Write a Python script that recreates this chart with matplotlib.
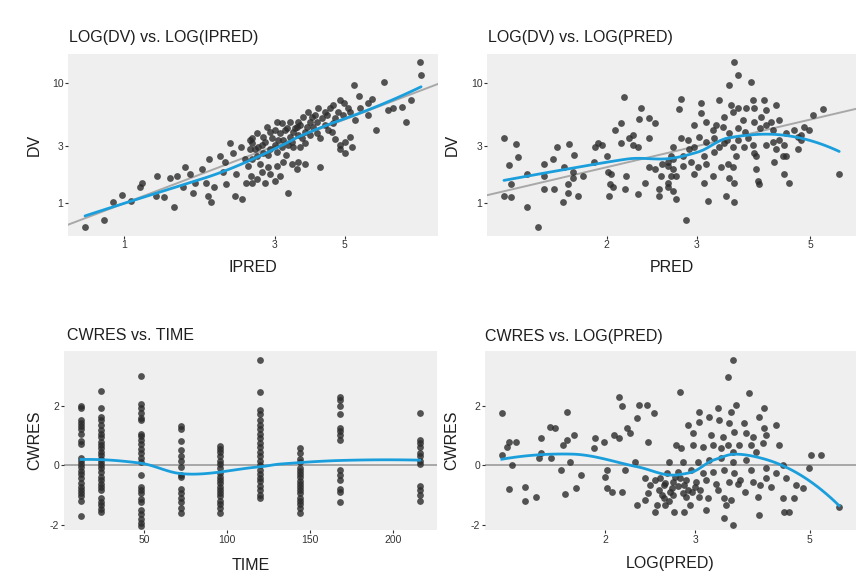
import numpy as np
import matplotlib
matplotlib.use("Agg")
import matplotlib.pyplot as plt
from matplotlib.ticker import NullLocator

plt.rcParams['font.family'] = ['Liberation Sans', 'DejaVu Sans']
plt.rcParams['axes.unicode_minus'] = False

# ---- observed vs individual prediction ----
ipred_a = [0.75, 0.86, 0.92, 0.98, 1.05, 1.12, 1.14, 1.26, 1.27, 1.34, 1.44, 1.40, 1.53, 1.47,
           1.56, 1.62, 1.65, 1.68, 1.77, 1.81, 1.84, 1.88, 1.86, 1.93, 2.01, 2.05, 2.08, 2.10,
           2.17, 2.21, 2.24, 2.26, 2.34, 2.37, 2.41, 2.50, 2.46, 2.52, 2.50, 2.44,
           8.68, 8.75, 5.35, 6.67, 5.55, 5.93, 6.11, 4.83, 4.59, 4.97, 5.12, 5.59, 6.87, 7.12,
           7.61, 8.13, 7.84, 6.29, 5.93, 4.76, 4.49, 4.39, 4.11, 4.23, 4.08, 3.94, 3.82, 3.68,
           3.55, 3.53, 3.35, 3.28, 3.16, 3.05, 3.00, 2.89, 2.83, 2.75, 2.63, 2.55, 2.54, 2.65,
           2.79, 2.94, 3.11, 3.18, 3.35, 3.42, 3.55, 3.74, 3.79, 3.96, 4.08, 4.56, 4.66, 4.83,
           5.01, 5.20, 5.27, 4.83, 5.01, 4.59, 4.43, 4.17, 3.74, 3.60, 3.42, 3.30, 3.16, 3.05,
           2.89, 2.75, 2.63, 2.54, 2.69, 2.85, 3.05, 3.18, 3.40, 3.53, 3.74, 4.17, 3.55, 3.11,
           3.00, 2.79, 2.63, 2.54, 3.30, 2.89, 2.73,
           3.23, 3.47, 3.60, 3.88, 4.02, 4.33, 2.73, 2.85, 3.00, 3.25, 3.40, 3.66, 3.88, 3.07,
           2.59, 4.33, 4.66, 4.94, 5.20, 5.39]
dv_a = [0.64, 0.72, 1.02, 1.17, 1.04, 1.36, 1.49, 1.14, 1.68, 1.12, 0.93, 1.64, 1.36, 1.68,
        1.99, 1.74, 1.23, 1.49, 1.92, 1.49, 1.14, 1.02, 2.32, 1.38, 2.46, 1.81, 2.23, 1.44,
        3.21, 2.65, 1.14, 1.74, 2.97, 1.08, 2.32, 3.40, 2.03, 1.68, 2.81, 1.49,
        15.1, 11.8, 9.73, 10.3, 7.88, 6.90, 7.45, 7.31, 6.64, 6.90, 6.27, 6.27, 6.03, 6.27,
        6.39, 7.31, 4.80, 4.12, 5.48, 5.81, 6.27, 5.48, 6.27, 5.18, 4.80, 5.28, 5.81, 5.28,
        4.80, 4.36, 4.80, 4.28, 4.71, 4.80, 4.12, 3.96, 4.36, 3.60, 3.89, 3.53, 3.21, 2.97,
        3.27, 3.53, 3.89, 3.40, 3.60, 3.96, 3.74, 3.96, 4.36, 4.36, 3.89, 3.96, 3.47, 3.09,
        3.27, 3.60, 2.97, 2.81, 2.65, 4.71, 4.12, 3.53, 3.21, 2.92, 2.92, 3.09, 2.97, 2.70,
        2.81, 2.65, 2.46, 2.32, 2.11, 1.99, 2.03, 2.23, 2.11, 1.92, 2.11, 1.99, 2.23, 1.68,
        1.52, 1.49, 1.58, 1.49, 1.23, 1.74, 1.81,
        4.12, 4.28, 4.53, 4.80, 5.48, 5.81, 3.09, 2.55, 3.09, 2.55, 3.27, 3.53, 3.74, 3.40,
        2.81, 4.53, 5.18, 5.48, 5.81, 4.98]

# ---- observed vs population prediction ----
pred_b = [1.26, 1.33, 1.34, 1.29, 1.30, 1.26, 1.30, 1.40, 1.40, 1.47, 1.51, 1.51, 1.51, 1.57,
          1.58, 1.60, 1.65, 1.64, 1.68, 1.68, 1.69, 1.72, 1.72, 1.73, 1.76, 1.80, 1.89, 1.90,
          1.92, 1.96, 2.00, 2.01, 2.03, 2.04, 2.02, 2.06, 2.08, 2.13, 2.13, 2.16, 2.18, 2.17,
          2.21, 2.25, 2.25, 2.30, 2.30, 2.31, 2.33, 2.38, 2.42, 2.42, 2.42, 2.49, 2.49, 2.53,
          2.53, 2.55, 2.57, 2.63, 2.64, 2.67, 2.69, 2.70,
          3.54, 3.61, 3.46, 3.83, 2.79, 2.77, 3.05, 3.05, 3.31, 3.50, 3.53, 3.61, 3.69, 3.74,
          3.86, 3.88, 4.06, 4.09, 4.28, 4.34, 5.06, 5.29, 2.96, 3.12, 3.22, 3.39, 3.37, 3.46,
          3.61, 3.88, 4.00, 4.19, 4.22, 4.48, 4.64, 4.79, 4.97, 2.79, 2.88, 2.70, 2.67, 2.82,
          2.96, 3.03, 3.12, 3.24, 3.31, 3.39, 3.53, 3.61, 3.71, 3.86, 3.88, 4.09, 4.22, 4.34,
          4.44, 4.48, 4.73, 4.79, 4.28, 2.63, 2.70, 2.82, 2.92, 3.01, 3.10, 3.12, 3.24, 3.34,
          3.45, 3.53, 3.58, 3.91, 4.24, 4.42, 2.63, 2.73, 2.96, 3.10, 3.22, 3.46, 3.54, 3.91,
          3.95, 3.97, 4.44, 4.54, 5.69, 2.73, 3.15, 3.42, 3.54, 2.86, 4.73, 4.86,
          3.27, 3.72, 3.98, 3.43, 3.78, 2.90, 4.09]
dv_b = [3.53, 3.15, 2.41, 2.07, 1.44, 1.14, 1.12, 1.74, 0.94, 0.63, 2.11, 1.68, 1.31, 2.32,
        1.31, 2.97, 1.99, 1.02, 1.44, 1.23, 3.15, 1.64, 1.84, 2.55, 1.14, 1.68, 2.23, 2.97,
        3.21, 3.09, 2.46, 1.84, 1.44, 1.74, 1.14, 1.38, 4.12, 4.71, 3.21, 7.74, 1.68, 1.31,
        3.53, 3.09, 3.74, 2.97, 1.19, 5.08, 6.27, 1.49, 5.18, 3.53, 1.99, 4.71, 1.92, 1.31,
        1.14, 1.68, 2.11, 1.49, 2.03, 1.68, 2.32, 1.26,
        15.1, 11.8, 9.73, 10.3, 7.45, 6.15, 6.90, 5.70, 7.31, 6.64, 5.81, 6.27, 4.98, 6.27,
        7.31, 6.27, 7.31, 6.03, 6.64, 4.98, 5.48, 6.15, 4.53, 4.80, 4.12, 5.28, 4.36, 3.89,
        4.28, 4.80, 5.28, 4.80, 4.12, 3.89, 4.12, 3.74, 4.12, 3.53, 3.40, 2.97, 2.46, 2.46,
        2.97, 3.60, 3.27, 3.53, 2.97, 3.21, 2.97, 3.40, 2.92, 3.09, 2.65, 3.09, 3.27, 3.40,
        3.09, 2.46, 2.81, 3.40, 2.81, 2.19, 1.92, 2.03, 2.23, 1.99, 2.46, 2.11, 2.70, 1.99,
        2.11, 1.99, 2.46, 2.46, 2.23, 2.46, 1.38, 1.68, 1.74, 1.49, 1.68, 1.64, 1.49, 1.92,
        1.52, 1.44, 1.74, 1.49, 1.77, 1.08, 1.04, 1.14, 1.02, 0.72, 3.60, 4.36,
        4.53, 3.96, 4.28, 3.40, 3.53, 2.81, 4.53]

# ---- conditional weighted residuals vs time ----
time_levels = [12, 24, 48, 72, 96, 120, 144, 168, 216]
cwres_by_time = [
    [2.0, 1.9, 1.5, 1.4, 1.3, 1.2, 1.05, 0.8, 0.7, 0.25, 0.15, 0.05, -0.05, -0.2, -0.3,
     -0.45, -0.6, -0.75, -0.85, -0.95, -1.05, -1.2, -1.7],
    [2.49, 1.93, 1.62, 1.51, 1.34, 1.18, 1.06, 0.95, 0.78, 0.67, 0.56, 0.45, 0.34, 0.22,
     0.11, 0.0, -0.11, -0.22, -0.39, -0.5, -0.62, -0.73, -0.84, -1.12, -1.23, -1.34, -1.46,
     -1.57],
    [2.98, 2.05, 1.9, 1.75, 1.58, 1.5, 1.05, 0.96, 0.85, 0.7, 0.55, 0.4, 0.25, 0.1, -0.33,
     -0.73, -0.85, -0.95, -1.15, -1.25, -1.5, -1.65, -1.8, -1.95, -2.05],
    [1.3, 1.2, 0.8, 0.5, 0.3, 0.15, -0.05, -0.35, -0.4, -0.8, -0.95, -1.1, -1.25, -1.45, -1.6],
    [0.65, 0.55, 0.45, 0.3, 0.15, 0.05, -0.1, -0.25, -0.4, -0.5, -0.6, -0.75, -0.85, -0.95,
     -1.05, -1.2, -1.3, -1.45, -1.6],
    [3.53, 2.45, 1.85, 1.7, 1.5, 1.35, 1.2, 1.05, 0.9, 0.75, 0.6, 0.45, 0.3, 0.15, 0.0,
     -0.15, -0.3, -0.45, -0.55, -0.7, -0.85, -1.0, -1.1],
    [0.58, 0.4, 0.2, 0.1, -0.1, -0.2, -0.3, -0.4, -0.55, -0.65, -0.75, -0.85, -0.95, -1.1,
     -1.2, -1.3, -1.45, -1.6],
    [2.3, 2.2, 2.0, 1.7, 1.25, 1.15, 1.0, 0.85, -0.15, -0.35, -0.5, -0.8, -0.9, -1.25],
    [1.75, 0.85, 0.75, 0.6, 0.4, 0.3, 0.15, 0.05, -0.7, -0.85, -1.0, -1.2],
]

# ---- conditional weighted residuals vs population prediction ----
pred_d = [1.26, 1.26, 1.30, 1.29, 1.34, 1.32, 1.30, 1.40, 1.40, 1.47, 1.50, 1.50, 1.49, 1.56,
          1.60, 1.57, 1.69, 1.64, 1.66, 1.69, 1.74, 1.71, 1.67, 1.76, 1.80, 1.91, 1.90, 1.99,
          2.02, 2.00, 2.02, 2.06, 2.08, 2.13, 2.16, 2.13, 2.16, 2.19, 2.21, 2.24, 2.31, 2.33,
          2.41, 2.43, 2.49, 2.29, 2.31, 2.39, 2.43, 2.50, 2.55, 2.61, 2.53, 2.62, 2.61, 2.64,
          2.67, 2.50,
          3.55, 3.47, 2.80, 3.82, 3.05, 3.32, 3.60, 3.52, 4.08, 3.99, 2.90, 3.05, 3.19, 3.34,
          3.49, 3.73, 4.08, 4.31, 2.97, 3.22, 3.40, 3.57, 3.76, 3.88, 4.12, 4.06, 4.36, 5.04,
          5.27, 2.75, 2.81, 2.97, 3.10, 3.25, 3.37, 3.47, 3.55, 3.65, 3.85, 3.94, 2.84, 3.04,
          3.19, 3.37, 3.55, 3.76, 2.78, 2.94, 3.10, 3.25, 3.41, 3.57, 3.85, 4.12, 4.31, 4.44,
          4.99, 2.71, 2.85, 3.01, 3.15, 3.29, 3.49, 3.63, 3.88, 4.12, 4.21, 4.50, 4.71, 4.86,
          2.71, 2.88, 3.05, 3.17, 3.41, 3.52, 3.97, 4.44, 4.67, 2.73, 2.85, 3.15, 3.41, 3.55,
          3.99, 4.46, 4.56, 5.71,
          2.39, 2.45, 2.56, 2.70, 2.80, 2.90, 3.00, 2.58, 2.93, 3.06, 3.66, 3.74, 3.32, 4.01,
          3.44, 2.62, 2.68, 2.74, 2.78, 2.84, 2.88, 2.95, 2.66]
cwres_d = [1.74, 0.34, 0.78, 0.62, 0.78, 0.0, -0.81, -0.73, -1.21, -1.07, 0.90, 0.39, 0.23,
           1.29, 1.23, 0.23, 1.79, -0.17, 0.67, 0.84, 1.01, 0.11, -0.98, -0.76, -0.34, 0.90,
           0.56, 0.78, -0.17, -0.39, -0.78, -0.90, 1.01, 2.30, 1.98, 0.90, -0.90, -0.17, 1.23,
           1.07, 1.57, 2.02, 2.02, 0.78, 1.74, 0.11, -1.34, -1.18, -0.95, -0.50, -0.84, -1.12,
           -1.34, -1.34, -0.67, -0.28, 0.11, -1.57,
           3.53, 2.95, 2.46, 2.41, 1.79, 1.91, 2.02, 1.79, 1.91, 1.62, 1.34, 1.46, 1.62, 1.51,
           1.40, 1.40, 1.23, 1.34, 1.07, 1.01, 0.95, 1.12, 1.07, 0.95, 1.01, 0.73, 0.67, 0.34,
           0.34, 0.67, 0.56, 0.67, 0.62, 0.67, 0.56, 0.67, 0.45, 0.67, 0.67, 0.45, 0.11, 0.11,
           0.17, 0.23, 0.11, 0.17, -0.23, -0.17, -0.28, -0.23, -0.17, -0.28, -0.17, -0.11,
           -0.28, 0.0, -0.11, -0.56, -0.67, -0.56, -0.50, -0.62, -0.56, -0.62, -0.56, -0.45,
           -0.73, -0.45, -0.67, -0.78, -1.01, -1.07, -1.07, -1.12, -1.12, -1.18, -1.07, -1.12,
           -1.12, -1.57, -1.57, -1.51, -1.79, -2.02, -1.68, -1.57, -1.57, -1.42,
           -0.45, -0.67, -0.45, -0.78, -0.45, -0.84, -0.73, -1.01, -1.34, -0.84, -0.50, -0.90,
           -0.84, -0.67, -1.34, -0.60, -0.90, -0.40, -0.70, -0.95, -0.50, -0.90, -1.20]

titles = ["LOG(DV) vs. LOG(IPRED)", "LOG(DV) vs. LOG(PRED)",
          "CWRES vs. TIME", "CWRES vs. LOG(PRED)"]

POINT = '#2b2b2b'
SMOOTH = '#1b9fdc'
REF = '#a8a8a8'
PANEL_BG = '#efefef'
TICK_COL = '#333333'
TEXT_COL = '#1f1f1f'


def _local_fit(x, y, x0, q):
    """Weighted local quadratic at x0; returns value and slope."""
    d = np.abs(x - x0)
    h = np.sort(d)[q - 1]
    h = max(h, 1e-12)
    w = np.clip(1 - (d / h) ** 3, 0, None) ** 3
    X = np.column_stack([np.ones_like(x), x - x0, (x - x0) ** 2])
    sw = np.sqrt(w)
    beta = np.linalg.lstsq(X * sw[:, None], y * sw, rcond=None)[0]
    return beta[0], beta[1]


def loess(x, y, span=0.75, n_out=80):
    """loess smoother: local quadratic fits at kd-tree vertices joined by
    cubic Hermite interpolation (R's default surface='interpolate')."""
    x = np.asarray(x, float)
    y = np.asarray(y, float)
    n = len(x)
    q = int(np.floor(n * span))
    fc = int(np.floor(n * span * 0.2))
    xs = np.sort(x)
    lo, hi = xs[0], xs[-1]
    mu = 0.005 * (hi - lo)
    verts = {lo - mu, hi + mu}

    def split(l, u, a, b):
        if u - l + 1 <= fc or xs[l] == xs[u]:
            return
        m = (l + u) // 2
        v = 0.5 * (xs[m] + xs[m + 1])
        if v <= a or v >= b:
            return
        verts.add(v)
        split(l, m, a, v)
        split(m + 1, u, v, b)

    split(0, n - 1, lo - mu, hi + mu)
    vx = np.array(sorted(verts))
    fits = np.array([_local_fit(x, y, v, q) for v in vx])
    vy, vs = fits[:, 0], fits[:, 1]
    grid = np.linspace(lo, hi, n_out)
    out = np.empty_like(grid)
    for i, g in enumerate(grid):
        k = np.clip(np.searchsorted(vx, g) - 1, 0, len(vx) - 2)
        x0, x1 = vx[k], vx[k + 1]
        hstep = x1 - x0
        t = (g - x0) / hstep
        h00 = 2 * t ** 3 - 3 * t ** 2 + 1
        h10 = t ** 3 - 2 * t ** 2 + t
        h01 = -2 * t ** 3 + 3 * t ** 2
        h11 = t ** 3 - t ** 2
        out[i] = h00 * vy[k] + h10 * hstep * vs[k] + h01 * vy[k + 1] + h11 * hstep * vs[k + 1]
    return grid, out


W, H = 856, 586
fig = plt.figure(figsize=(W / 100, H / 100), dpi=100, facecolor='white')


def add_panel(left, top, right, bottom):
    return fig.add_axes([left / W, 1 - bottom / H, (right - left) / W, (bottom - top) / H])


def style(ax):
    ax.set_facecolor(PANEL_BG)
    for s in ax.spines.values():
        s.set_visible(False)
    ax.tick_params(length=2.2, width=0.8, color=TICK_COL, labelsize=7.5,
                   labelcolor=TICK_COL, pad=1.2)
    ax.xaxis.set_minor_locator(NullLocator())
    ax.yaxis.set_minor_locator(NullLocator())


def scatter(ax, x, y):
    ax.scatter(x, y, s=24, c=POINT, alpha=0.8, linewidths=0, zorder=2)


ax1 = add_panel(68.2, 53.7, 437.9, 235.6)
ax2 = add_panel(487.2, 53.7, 856, 235.6)
ax3 = add_panel(64, 351, 436.5, 530)
ax4 = add_panel(485, 351, 856, 530)

# Top row: DV against IPRED / PRED on log-log axes with identity line
for ax, xv, yv, xt, xlab in [(ax1, ipred_a, dv_a, [1, 3, 5], 'IPRED'),
                             (ax2, pred_b, dv_b, [2, 3, 5], 'PRED')]:
    ax.set_xscale('log')
    ax.set_yscale('log')
    style(ax)
    lx = np.log(xv)
    ly = np.log(yv)
    rx = lx.max() - lx.min()
    ax.set_xlim(np.exp(lx.min() - 0.05 * rx), np.exp(lx.max() + 0.05 * rx))
    ry = np.log(15.1) - np.log(0.63)
    ax.set_ylim(np.exp(np.log(0.63) - 0.05 * ry), np.exp(np.log(15.1) + 0.05 * ry))
    lo, hi = ax.get_xlim()
    ax.plot([lo, hi], [lo, hi], color=REF, lw=1.4, zorder=1)
    scatter(ax, xv, yv)
    gx, gy = loess(lx, ly)
    ax.plot(np.exp(gx), np.exp(gy), color=SMOOTH, lw=2.0, zorder=3, solid_capstyle='round')
    ax.set_xticks(xt)
    ax.set_xticklabels([str(t) for t in xt])
    ax.set_yticks([1, 3, 10])
    ax.set_yticklabels(['1', '3', '10'])
    ax.xaxis.set_minor_locator(NullLocator())
    ax.yaxis.set_minor_locator(NullLocator())
    ax.set_xlabel(xlab, fontsize=11.5, color=TEXT_COL)
    ax.set_ylabel('DV', fontsize=11.5, color=TEXT_COL)
    ax.xaxis.set_label_coords(0.5, -0.134)

ax1.yaxis.set_label_coords(-0.071, 0.5)
ax2.yaxis.set_label_coords(-0.074, 0.5)

# Bottom left: CWRES against TIME
style(ax3)
tx = np.concatenate([[t] * len(v) for t, v in zip(time_levels, cwres_by_time)])
cy = np.concatenate(cwres_by_time)
ax3.set_xlim(1.8, 226.2)
ax3.set_ylim(-2.18, 3.83)
ax3.axhline(0, color=REF, lw=1.4, zorder=1)
scatter(ax3, tx, cy)
gx, gy = loess(tx, cy)
ax3.plot(gx, gy, color=SMOOTH, lw=2.0, zorder=3)
ax3.set_xticks([50, 100, 150, 200])
ax3.set_yticks([-2, 0, 2])
ax3.set_xlabel('TIME', fontsize=11.5, color=TEXT_COL)
ax3.set_ylabel('CWRES', fontsize=11.5, color=TEXT_COL)
ax3.xaxis.set_label_coords(0.5, -0.156)
ax3.yaxis.set_label_coords(-0.059, 0.5)

# Bottom right: CWRES against PRED on a log x axis
ax4.set_xscale('log')
style(ax4)
lx = np.log(pred_d)
rx = lx.max() - lx.min()
ax4.set_xlim(np.exp(lx.min() - 0.05 * rx), np.exp(lx.max() + 0.05 * rx))
ax4.set_ylim(-2.18, 3.83)
ax4.axhline(0, color=REF, lw=1.4, zorder=1)
scatter(ax4, pred_d, cwres_d)
gx, gy = loess(lx, cwres_d)
ax4.plot(np.exp(gx), gy, color=SMOOTH, lw=2.0, zorder=3)
ax4.set_xticks([2, 3, 5])
ax4.set_xticklabels(['2', '3', '5'])
ax4.xaxis.set_minor_locator(NullLocator())
ax4.set_yticks([-2, 0, 2])
ax4.set_xlabel('LOG(PRED)', fontsize=11.5, color=TEXT_COL)
ax4.set_ylabel('CWRES', fontsize=11.5, color=TEXT_COL)
ax4.xaxis.set_label_coords(0.5, -0.145)
ax4.yaxis.set_label_coords(-0.07, 0.5)

for (x, y), t in zip([(69, 37.5), (488, 37.5), (67, 336), (485, 336)], titles):
    fig.text(x / W, 1 - y / H, t, fontsize=11.5, color=TEXT_COL, ha='left', va='center')

fig.savefig('out.png', dpi=100, facecolor='white')
